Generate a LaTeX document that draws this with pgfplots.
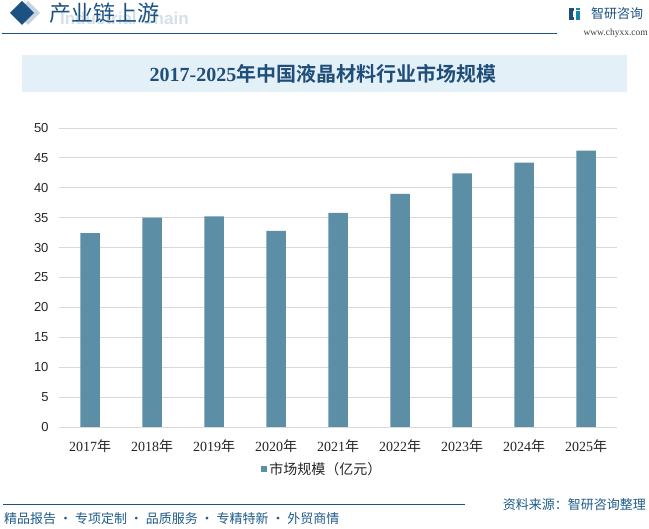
\documentclass[border=0pt]{standalone}
\usepackage{pgfplots}
\pgfplotsset{compat=1.18}
\usepackage{fontspec}
\setmainfont{Liberation Sans}
\newfontfamily\cjk{Noto Sans CJK SC}
\newfontfamily\cjkb{Noto Sans CJK SC Bold}
\newfontfamily\serif{Liberation Serif}
\definecolor{barc}{HTML}{5C8FA6}
\definecolor{gridc}{HTML}{D9D9D9}
\definecolor{navy}{HTML}{1F4E79}
\definecolor{hdr}{HTML}{1B5283}
\definecolor{boxc}{HTML}{E4F0F8}
\definecolor{foot}{HTML}{1F5C8C}
\begin{document}
\begin{tikzpicture}[x=1bp,y=1bp]
\path[use as bounding box,fill=white] (0,0) rectangle (649,529);
% header
\fill[hdr!25] (16,516) -- (28,528) -- (40,516) -- (28,504) -- cycle;
\fill[hdr] (10,516) -- (22,528) -- (34,516) -- (22,504) -- cycle;
\node[anchor=west,inner sep=0,text=hdr!18,font={\bfseries\fontsize{17bp}{19bp}\selectfont}] at (60,511) {Industrial Chain};
\node[anchor=west,inner sep=0,text=hdr,font={\cjk\fontsize{22bp}{24bp}\selectfont}] at (49,516) {产业链上游};
\draw[hdr,line width=1.6bp] (2,495.5) -- (557,495.5);
% logo
\fill[navy] (569,509) rectangle (572.5,521);
\fill[navy] (569,517.5) rectangle (574,521);
\fill[navy] (569,509) rectangle (574,512);
\fill[hdr!70!cyan] (575.5,509) rectangle (579.5,518);
\fill[hdr!70!cyan] (575.5,519) rectangle (579.5,521);
\node[anchor=west,inner sep=0,text=hdr,font={\cjk\fontsize{13bp}{15bp}\selectfont}] at (591,515) {智研咨询};
\node[anchor=east,inner sep=0,text=black!75,font={\serif\fontsize{9.5bp}{11bp}\selectfont}] at (648,496) {www.chyxx.com};
% title box
\fill[boxc] (22,437) rectangle (627,474);
\node[inner sep=0,text=navy,font={\fontsize{20bp}{22bp}\selectfont}] at (323,455) {{\serif\bfseries 2017-2025}{\cjkb 年中国液晶材料行业市场规模}};
% footer
\draw[hdr,line width=1.5bp] (3,24.7) -- (465,24.7);
\node[anchor=west,inner sep=0,text=foot,font={\cjk\fontsize{13bp}{15bp}\selectfont}] at (4,10) {精品报告 · 专项定制 · 品质服务 · 专精特新 · 外贸商情};
\node[anchor=east,inner sep=0,text=foot,font={\cjk\fontsize{13bp}{15bp}\selectfont}] at (646,24) {资料来源：智研咨询整理};
\begin{axis}[
  at={(59bp,102bp)}, anchor=south west,
  scale only axis, width=558bp, height=299bp,
  ybar, bar width=19.5bp,
  xmin=-0.5, xmax=8.5, ymin=0, ymax=50,
  ytick={0,5,...,50},
  xtick=data,
  xticklabels={{\serif 2017}{\cjk 年},{\serif 2018}{\cjk 年},{\serif 2019}{\cjk 年},{\serif 2020}{\cjk 年},{\serif 2021}{\cjk 年},{\serif 2022}{\cjk 年},{\serif 2023}{\cjk 年},{\serif 2024}{\cjk 年},{\serif 2025}{\cjk 年}},
  axis line style={draw=none},
  major tick length=0,
  ymajorgrids, grid style={gridc,line width=0.8bp},
  /pgf/number format/assume math mode=true,
  yticklabel style={font={\fontsize{13bp}{15bp}\selectfont},text=black!85,xshift=-7bp},
  xticklabel style={font={\fontsize{14bp}{16bp}\selectfont},text=black!85,yshift=-9bp},
  legend style={at={(0.472,-0.1405)},anchor=center,draw=none,fill=none,inner sep=0pt,
    font={\cjk\fontsize{14bp}{16bp}\selectfont},text=black!85,
    /tikz/every even column/.append style={column sep=0pt}},
  legend image code/.code={\fill[barc] (0bp,-3bp) rectangle (6bp,3bp);},
]
\addplot[fill=barc,draw=none] coordinates {(0,32.4) (1,35.0) (2,35.2) (3,32.8) (4,35.8) (5,39.0) (6,42.4) (7,44.2) (8,46.2)};
\addlegendentry{市场规模（亿元）}
\end{axis}
\end{tikzpicture}
\end{document}
